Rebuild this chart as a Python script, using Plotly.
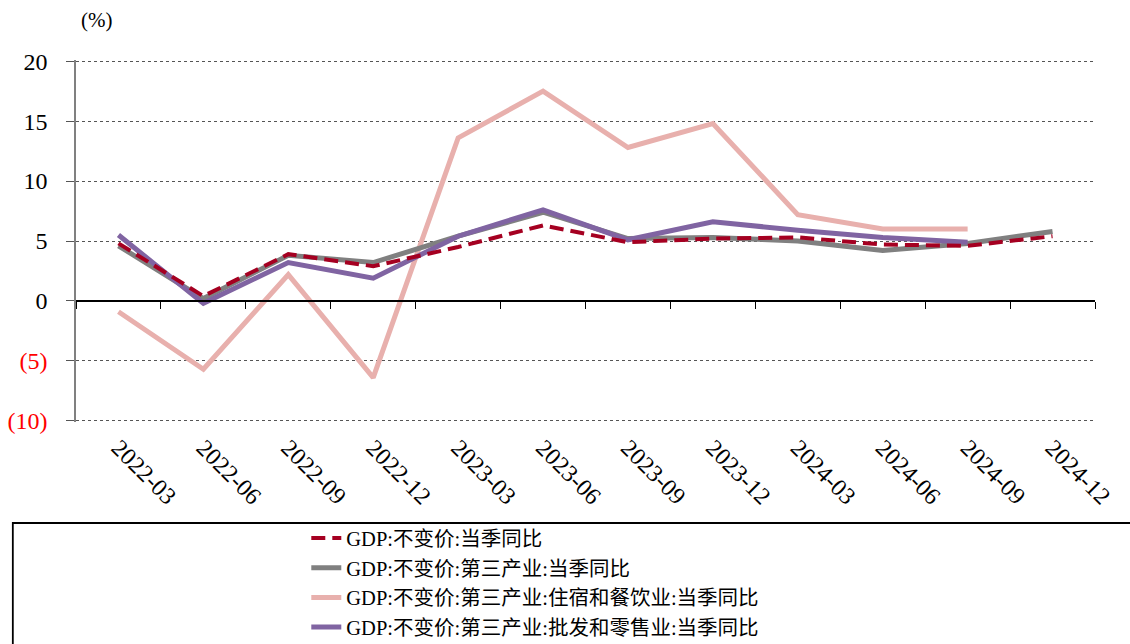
import plotly.graph_objects as go

# quarterly data, % yoy
dates = ['2022-03', '2022-06', '2022-09', '2022-12', '2023-03', '2023-06',
         '2023-09', '2023-12', '2024-03', '2024-06', '2024-09', '2024-12']

gdp = [4.8, 0.4, 3.9, 2.9, 4.5, 6.3, 4.9, 5.2, 5.3, 4.7, 4.6, 5.4]
tertiary = [4.6, 0.2, 3.8, 3.2, 5.4, 7.4, 5.2, 5.3, 5.0, 4.2, 4.8, 5.8]
hotel_catering = [-0.9, -5.7, 2.2, -6.4, 13.6, 17.5, 12.8, 14.8, 7.2, 6.0, 6.0, None]
wholesale_retail = [5.5, -0.2, 3.2, 1.9, 5.4, 7.6, 5.1, 6.6, 5.9, 5.3, 4.9, None]

names = ['GDP:不变价:当季同比',
         'GDP:不变价:第三产业:当季同比',
         'GDP:不变价:第三产业:住宿和餐饮业:当季同比',
         'GDP:不变价:第三产业:批发和零售业:当季同比']

y_ticks = [20, 15, 10, 5, 0, -5, -10]
y_labels = ['20', '15', '10', '5', '0',
            '<span style="color:#FF0000">(5)</span>',
            '<span style="color:#FF0000">(10)</span>']
y_min, y_max = -10.1, 20.1

FONT = '"Liberation Serif", "Times New Roman", "Noto Sans CJK SC", serif'

xs = list(range(len(dates)))

fig = go.Figure()

# draw order: pink, gray, purple, red dashed on top; legend order via legendrank
fig.add_trace(go.Scatter(x=xs, y=hotel_catering, name=names[2], mode='lines',
                         legendrank=3, line=dict(color='#E8B0AD', width=5)))
fig.add_trace(go.Scatter(x=xs, y=tertiary, name=names[1], mode='lines',
                         legendrank=2, line=dict(color='#808080', width=5)))
fig.add_trace(go.Scatter(x=xs, y=wholesale_retail, name=names[3], mode='lines',
                         legendrank=4, line=dict(color='#8064A2', width=5)))
fig.add_trace(go.Scatter(x=xs, y=gdp, name=names[0], mode='lines',
                         legendrank=1, line=dict(color='#A50021', width=4, dash='14px,7px')))

# helper trace so the zero-line tick axis is drawn
fig.add_trace(go.Scatter(x=xs, y=[None] * len(xs), xaxis='x2', mode='lines',
                         showlegend=False, hoverinfo='skip'))

boundaries = [i - 0.5 for i in range(len(dates) + 1)]

fig.update_layout(
    width=1130, height=644,
    margin=dict(l=76, r=35, t=60, b=222, autoexpand=False),
    paper_bgcolor='white', plot_bgcolor='white',
    font=dict(family=FONT, size=22, color='black'),
    showlegend=True,
    legend=dict(
        x=0.226, y=-0.266, xanchor='left', yanchor='top',
        traceorder='normal', bgcolor='rgba(0,0,0,0)',
        font=dict(family=FONT, size=20.5, color='black'),
        tracegroupgap=0,
    ),
    xaxis=dict(
        range=[-0.5, len(dates) - 0.5],
        tickvals=xs, ticktext=dates, tickangle=45,
        showgrid=False, zeroline=False, showline=False, ticks='',
        tickfont=dict(family=FONT, size=24),
        ticklabelstandoff=6, automargin=False,
    ),
    xaxis2=dict(
        overlaying='x', anchor='free',
        position=(0 - y_min) / (y_max - y_min),
        range=[-0.5, len(dates) - 0.5],
        tickvals=boundaries, showticklabels=False,
        ticks='outside', ticklen=7, tickcolor='black', tickwidth=1,
        showline=True, linecolor='black', linewidth=1.5,
        showgrid=False, zeroline=False, automargin=False,
    ),
    yaxis=dict(
        range=[y_min, y_max],
        tickvals=y_ticks, ticktext=y_labels,
        showgrid=True, gridcolor='#555555', gridwidth=1, griddash='dot',
        zeroline=False,
        showline=True, linecolor='#808080', linewidth=1.5,
        ticks='outside', ticklen=8, tickcolor='#555555',
        tickfont=dict(family=FONT, size=24),
        ticklabelstandoff=14, automargin=False,
    ),
)

# legend frame
fig.add_shape(type='rect', xref='paper', yref='paper',
              x0=-0.062, x1=1.06, y0=-0.64, y1=-0.279,
              line=dict(color='black', width=1.8), fillcolor='rgba(0,0,0,0)')

fig.add_annotation(text='(%)', xref='paper', yref='paper', x=0.02, y=1.11,
                   xanchor='center', yanchor='middle', showarrow=False,
                   font=dict(family=FONT, size=21, color='black'))

fig.write_html('out.html', config={'displayModeBar': False},
               post_script="document.body.style.margin='0';")
